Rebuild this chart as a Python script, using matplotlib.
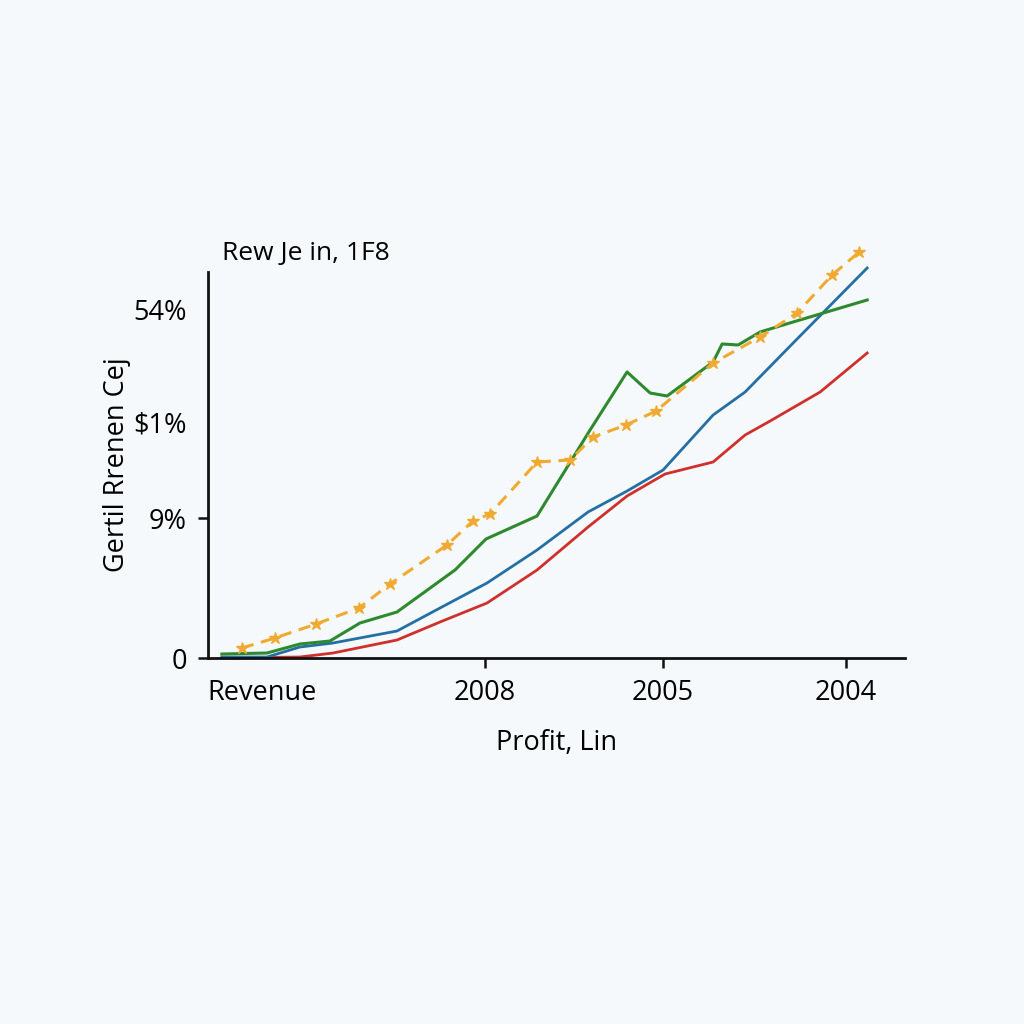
import matplotlib
matplotlib.use("Agg")
import matplotlib.pyplot as plt

plt.rcParams['font.family'] = ['Open Sans', 'DejaVu Sans']

# series (x along the axis, y in axis units)
orange_x = [3.4, 6.7, 10.8, 15.1, 18.2, 23.9, 26.5, 28.2, 32.9, 36.2, 38.5, 41.8, 44.8, 50.5, 55.2, 58.9, 62.4, 65.1]
orange_y = [1.0, 2.0, 3.4, 5.0, 7.4, 11.3, 13.7, 14.4, 19.6, 19.8, 22.1, 23.3, 24.7, 29.5, 32.1, 34.5, 38.3, 40.6]

green_x = [1.4, 5.9, 9.2, 12.2, 15.2, 18.9, 24.7, 27.8, 32.9, 38.2, 41.9, 44.2, 45.9, 50.5, 51.4, 53.0, 55.2, 58.5, 65.9]
green_y = [0.4, 0.5, 1.4, 1.7, 3.5, 4.6, 8.8, 11.9, 14.2, 22.8, 28.6, 26.5, 26.2, 29.6, 31.4, 31.3, 32.6, 33.6, 35.8]

blue_x = [1.4, 5.9, 9.2, 12.5, 18.9, 23.2, 27.9, 32.9, 38.0, 41.9, 45.5, 50.5, 53.7, 58.5, 65.9]
blue_y = [0.1, 0.1, 1.1, 1.5, 2.7, 5.0, 7.5, 10.8, 14.6, 16.7, 18.8, 24.3, 26.6, 31.5, 39.0]

red_x = [1.4, 9.2, 12.5, 18.9, 23.2, 27.9, 32.9, 38.0, 41.9, 45.7, 50.5, 53.7, 56.2, 61.2, 65.9]
red_y = [0.0, 0.1, 0.5, 1.8, 3.6, 5.5, 8.8, 13.1, 16.2, 18.4, 19.6, 22.3, 23.7, 26.6, 30.5]

xtick_pos = [5.4, 27.7, 45.5, 63.8]
xtick_labels = ["Revenue", "2008", "2005", "2004"]
ytick_pos = [0, 14.0, 23.6, 34.8]
ytick_labels = ["0", "9%", "$1%", "54%"]

fig = plt.figure(figsize=(10.24, 10.24), dpi=100, facecolor='#f5f9fb')
ax = fig.add_axes([0.203, 0.3574, 0.681, 0.377])
ax.set_facecolor('none')

ax.plot(red_x, red_y, color='#d0302c', lw=2, clip_on=False)
ax.plot(blue_x, blue_y, color='#2470a4', lw=2, clip_on=False)
ax.plot(green_x, green_y, color='#2e8a2e', lw=2.2, clip_on=False)
ax.plot(orange_x, orange_y, color='#f0aa32', lw=2.2, ls=(0, (4, 2.5)),
        marker='*', markersize=9, clip_on=False)

ax.set_xlim(0, 69.7)
ax.set_ylim(0, 38.6)

for s in ['top', 'right']:
    ax.spines[s].set_visible(False)
for s in ['left', 'bottom']:
    ax.spines[s].set_linewidth(2)
    ax.spines[s].set_color('#111111')

ax.set_xticks(xtick_pos)
ax.set_xticklabels(xtick_labels, fontsize=19.5)
ax.set_yticks(ytick_pos)
ax.set_yticklabels(ytick_labels, fontsize=19.5)
ax.tick_params(axis='both', length=7, width=1.8, color='#111111', pad=8)
ax.xaxis.get_major_ticks()[0].tick1line.set_visible(False)
ax.yaxis.get_major_ticks()[2].tick1line.set_visible(False)
ax.yaxis.get_major_ticks()[3].tick1line.set_visible(False)

ax.set_xlabel("Profit, Lin", fontsize=19.5, labelpad=16)
ax.set_ylabel("Gertil Rrenen Cej", fontsize=19.5, labelpad=2)
ax.text(0.02, 1.03, "Rew Je in, 1F8", transform=ax.transAxes, fontsize=19, va='baseline')

fig.savefig("out.png", dpi=100, facecolor=fig.get_facecolor())
